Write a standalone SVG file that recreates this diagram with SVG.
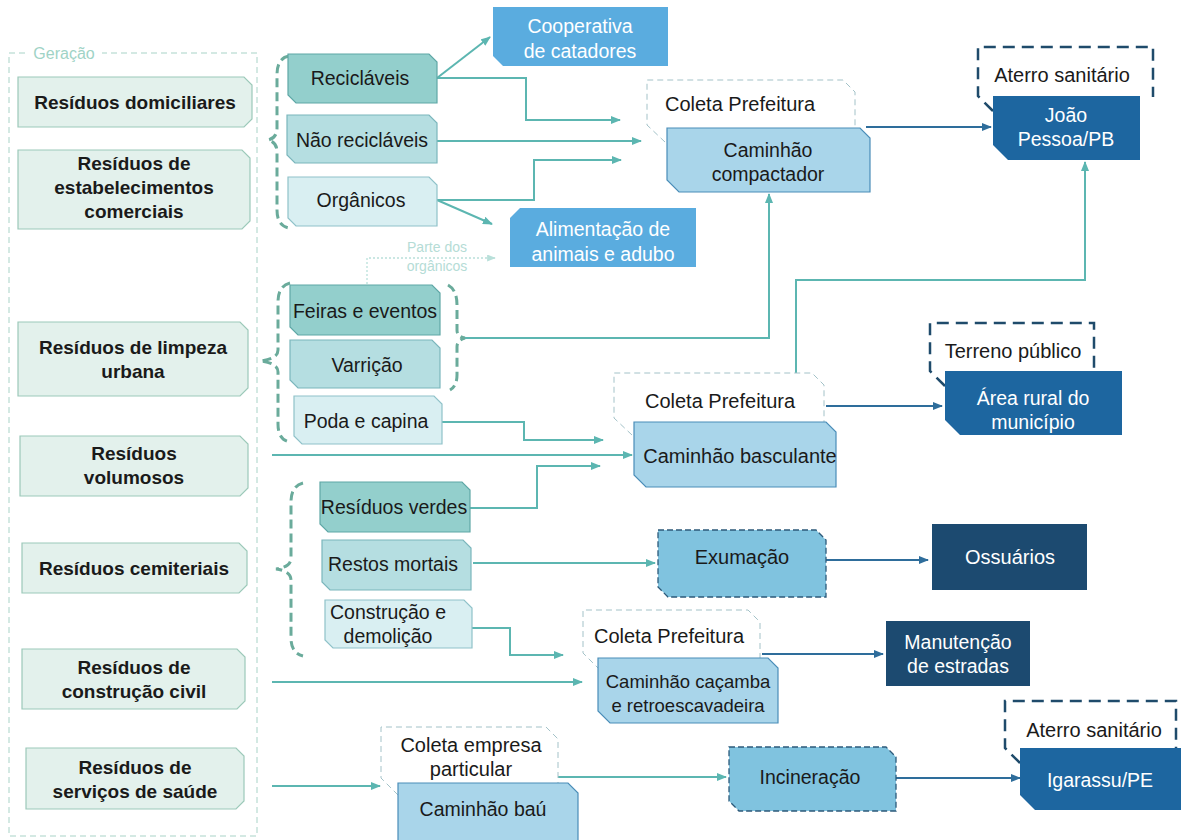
<svg xmlns="http://www.w3.org/2000/svg" width="1192" height="840" viewBox="0 0 1192 840">
<defs>
<marker id="aT" viewBox="0 0 10 8" markerWidth="10" markerHeight="8" refX="9" refY="4" orient="auto" markerUnits="userSpaceOnUse"><path d="M0,0 L10,4 L0,8 z" fill="#5cb6b1"/></marker>
<marker id="aD" viewBox="0 0 10 8" markerWidth="10" markerHeight="8" refX="9" refY="4" orient="auto" markerUnits="userSpaceOnUse"><path d="M0,0 L10,4 L0,8 z" fill="#2e6d9b"/></marker>
<marker id="aL" viewBox="0 0 10 8" markerWidth="9" markerHeight="7" refX="9" refY="4" orient="auto" markerUnits="userSpaceOnUse"><path d="M0,0 L10,4 L0,8 z" fill="#b9e0da"/></marker>
<style>
text{font-family:"Liberation Sans",Arial,sans-serif;font-size:19.5px;fill:#1a1a1a;text-anchor:middle}
.b{font-weight:bold;font-size:19px}
.w{fill:#ffffff}
.lb{font-size:20px}
.gen{fill:#e3f1ec;stroke:#9cc9b9;stroke-width:1.2}
.s1{fill:#93cfcc;stroke:#5fa7a6;stroke-width:1.2}
.s2{fill:#b5dee1;stroke:#7bb6bc;stroke-width:1.2}
.s3{fill:#d9eff2;stroke:#8fc2c9;stroke-width:1.2}
.truck{fill:#a9d5ea;stroke:#4a8db8;stroke-width:1.2}
.col{fill:#ffffff;stroke:#a3c2c8;stroke-width:1;stroke-dasharray:6 4}
.dest{fill:#5aacdf}
.proc{fill:#80c3df;stroke:#2c5a7a;stroke-width:1.3;stroke-dasharray:6 3}
.land{fill:#1d66a0}
.navy{fill:#1c4a70}
.frm{fill:#ffffff;stroke:#1f4b6b;stroke-width:2.5;stroke-dasharray:12 7}
.brace{fill:none;stroke:#6aab9b;stroke-width:3;stroke-dasharray:9 5}
.ct{fill:none;stroke:#5cb6b1;stroke-width:2;marker-end:url(#aT)}
.cd{fill:none;stroke:#2e6d9b;stroke-width:2;marker-end:url(#aD)}
.sm{font-size:14px;fill:#b5dcd6}
</style>
</defs>
<rect width="1192" height="840" fill="#ffffff"/>

<g id="geracao-frame">
<path d="M25 53 H9 V836 H257 V53 H102" fill="none" stroke="#a8d3c7" stroke-width="1" stroke-dasharray="6 4"/>
<text x="64" y="59" style="font-size:16px;fill:#9fd3c6">Geração</text>
</g>

<g id="braces">
<path class="brace" d="M289 56 Q277 58 277 75 V128 Q277 138 268 140 Q277 142 277 152 V210 Q277 226 289 228"/>
<path class="brace" d="M290 283 Q278 286 278 302 V350 Q278 359 260 361 Q278 363 278 372 V424 Q278 440 290 442"/>
<path class="brace" d="M448 285 Q457 290 457 305 V330 Q457 337 465 338 Q457 340 457 347 V375 Q457 386 450 390"/>
<path class="brace" d="M303 483 Q291 486 291 502 V558 Q291 567 276 569 Q291 571 291 580 V638 Q291 653 303 656"/>
</g>

<g id="connectors">
<path class="ct" d="M437 78 L490 37"/>
<path class="ct" d="M437 78 H526 V120 H620"/>
<path class="ct" d="M437 141 H641"/>
<path class="ct" d="M437 200 H534 V160 H621"/>
<path class="ct" d="M437 200 L492 224"/>
<path class="ct" d="M465 338 H769 V194"/>
<path class="ct" d="M442 422 H524 V440 H603"/>
<path class="ct" d="M272 455 H632"/>
<path class="ct" d="M470 508 H537 V466 H600"/>
<path class="ct" d="M796 375 V280 H1085 V162"/>
<path class="ct" d="M473 563 H655"/>
<path class="ct" d="M472 628 H510 V655 H563"/>
<path class="ct" d="M272 682 H582"/>
<path class="ct" d="M272 786 H380"/>
<path class="ct" d="M558 777 H726"/>
<path class="cd" d="M866 127 H991"/>
<path class="cd" d="M826 406 H942"/>
<path class="cd" d="M826 560 H928"/>
<path class="cd" d="M762 654 H883"/>
<path class="cd" d="M896 778 H1020"/>
<path d="M367 284 V258 H495" fill="none" stroke="#b9e0da" stroke-width="1.3" stroke-dasharray="2 2" marker-end="url(#aL)"/>
<text class="sm" x="437" y="252">Parte dos</text>
<text class="sm" x="437" y="271">orgânicos</text>
</g>

<g id="n-domiciliares"><path class="gen" d="M18 77 H244 L252 85 V119 L244 127 H18 Z"/><text class="b" x="135" y="109">Resíduos domiciliares</text></g>
<g id="n-comerciais"><path class="gen" d="M18 150 H242 L250 158 V221 L242 229 H18 Z"/><text class="b" x="134" y="170">Resíduos de</text><text class="b" x="134" y="194">estabelecimentos</text><text class="b" x="134" y="218">comerciais</text></g>
<g id="n-limpeza"><path class="gen" d="M18 322 H240 L248 330 V388 L240 396 H18 Z"/><text class="b" x="133" y="354">Resíduos de limpeza</text><text class="b" x="133" y="378">urbana</text></g>
<g id="n-volumosos"><path class="gen" d="M20 436 H240 L248 444 V488 L240 496 H20 Z"/><text class="b" x="134" y="460">Resíduos</text><text class="b" x="134" y="484">volumosos</text></g>
<g id="n-cemiteriais"><path class="gen" d="M22 543 H239 L247 551 V585 L239 593 H22 Z"/><text class="b" x="134" y="575">Resíduos cemiteriais</text></g>
<g id="n-construcao"><path class="gen" d="M22 649 H237 L245 657 V701 L237 709 H22 Z"/><text class="b" x="134" y="674">Resíduos de</text><text class="b" x="134" y="698">construção civil</text></g>
<g id="n-saude"><path class="gen" d="M26 748 H236 L244 756 V801 L236 809 H26 Z"/><text class="b" x="135" y="774">Resíduos de</text><text class="b" x="135" y="798">serviços de saúde</text></g>

<g id="n-reciclaveis"><path class="s1" d="M288 54 H429 L437 62 V103 H296 L288 95 Z"/><text x="360" y="85">Recicláveis</text></g>
<g id="n-nao-reciclaveis"><path class="s2" d="M287 115 H429 L437 123 V163 H295 L287 155 Z"/><text x="362" y="147">Não recicláveis</text></g>
<g id="n-organicos"><path class="s3" d="M288 177 H429 L437 185 V226 H296 L288 218 Z"/><text x="361" y="207">Orgânicos</text></g>
<g id="n-feiras"><path class="s1" d="M290 285 H432 L440 293 V335 H298 L290 327 Z"/><text x="365" y="318">Feiras e eventos</text></g>
<g id="n-varricao"><path class="s2" d="M290 340 H432 L440 348 V388 H298 L290 380 Z"/><text x="367" y="372">Varrição</text></g>
<g id="n-poda"><path class="s3" d="M294 396 H434 L442 404 V444 H302 L294 436 Z"/><text x="366" y="428">Poda e capina</text></g>
<g id="n-verdes"><path class="s1" d="M320 482 H462 L470 490 V532 H328 L320 524 Z"/><text x="394" y="514">Resíduos verdes</text></g>
<g id="n-restos"><path class="s2" d="M322 540 H463 L471 548 V590 H330 L322 582 Z"/><text x="393" y="571">Restos mortais</text></g>
<g id="n-demolicao"><path class="s3" d="M325 600 H464 L472 608 V648 H333 L325 640 Z"/><text x="388" y="619">Construção e</text><text x="388" y="643">demolição</text></g>

<g id="n-cooperativa"><path class="dest" d="M493 7 H668 V66 H503 L493 56 Z"/><text class="w" x="580" y="33">Cooperativa</text><text class="w" x="580" y="58">de catadores</text></g>
<g id="n-alimentacao"><path class="dest" d="M520 208 H696 V267 H510 V218 Z"/><text class="w" x="603" y="236">Alimentação de</text><text class="w" x="603" y="261">animais e adubo</text></g>

<g id="n-compactador">
<path class="col" d="M665 142 L647 125 V80 H843 L855 92 V128"/>
<text class="lb" x="740" y="111">Coleta Prefeitura</text>
<path class="truck" d="M667 128 H860 L870 138 V192 H679 L667 180 Z"/>
<text x="768" y="157">Caminhão</text><text x="768" y="181">compactador</text>
</g>
<g id="n-basculante">
<path class="col" d="M632 435 L614 418 V373 H812 L824 385 V422"/>
<text class="lb" x="720" y="408">Coleta Prefeitura</text>
<path class="truck" d="M634 422 H826 L836 432 V487 H646 L634 475 Z"/>
<text class="lb" x="740" y="463">Caminhão basculante</text>
</g>
<g id="n-cacamba">
<path class="col" d="M600 670 L583 653 V610 H748 L760 622 V658"/>
<text class="lb" x="669" y="643">Coleta Prefeitura</text>
<path class="truck" d="M598 658 H768 L778 668 V723 H610 L598 711 Z"/>
<text x="688" y="688" style="font-size:18.5px">Caminhão caçamba</text><text x="688" y="712" style="font-size:18.5px">e retroescavadeira</text>
</g>
<g id="n-bau">
<path class="col" d="M398 795 L381 778 V727 H546 L558 739 V783"/>
<text class="lb" x="471" y="752">Coleta empresa</text><text class="lb" x="471" y="776">particular</text>
<path class="truck" d="M398 783 H568 L578 793 V841 H398 Z"/>
<text x="483" y="816">Caminhão baú</text>
</g>

<g id="n-exumacao"><path class="proc" d="M658 530 H816 L826 540 V597 H668 L658 587 Z"/><text class="lb" x="742" y="564">Exumação</text></g>
<g id="n-ossuarios"><rect class="navy" x="932" y="524" width="155" height="66"/><text class="w lb" x="1010" y="564">Ossuários</text></g>
<g id="n-manutencao"><rect class="navy" x="886" y="621" width="144" height="65"/><text class="w" x="958" y="649">Manutenção</text><text class="w" x="958" y="673">de estradas</text></g>
<g id="n-incineracao"><path class="proc" d="M729 747 H886 L896 757 V811 H739 L729 801 Z"/><text x="810" y="784">Incineração</text></g>

<g id="n-joao-pessoa">
<path class="frm" d="M993 111 L978 96 V47 H1153 V97"/>
<text class="lb" x="1062" y="82">Aterro sanitário</text>
<path class="land" d="M993 96 H1140 V160 H1008 L993 145 Z"/>
<text class="w" x="1066" y="122">João</text><text class="w" x="1066" y="146">Pessoa/PB</text>
</g>
<g id="n-area-rural">
<path class="frm" d="M945 386 L930 371 V323 H1094 V372"/>
<text class="lb" x="1013" y="358">Terreno público</text>
<path class="land" d="M945 371 H1122 V435 H960 L945 420 Z"/>
<text class="w" x="1033" y="405">Área rural do</text><text class="w" x="1033" y="429">município</text>
</g>
<g id="n-igarassu">
<path class="frm" d="M1020 763 L1005 748 V701 H1176 V749"/>
<text class="lb" x="1094" y="737">Aterro sanitário</text>
<path class="land" d="M1020 748 H1181 V810 H1035 L1020 795 Z"/>
<text class="w" x="1100" y="787">Igarassu/PE</text>
</g>
</svg>
